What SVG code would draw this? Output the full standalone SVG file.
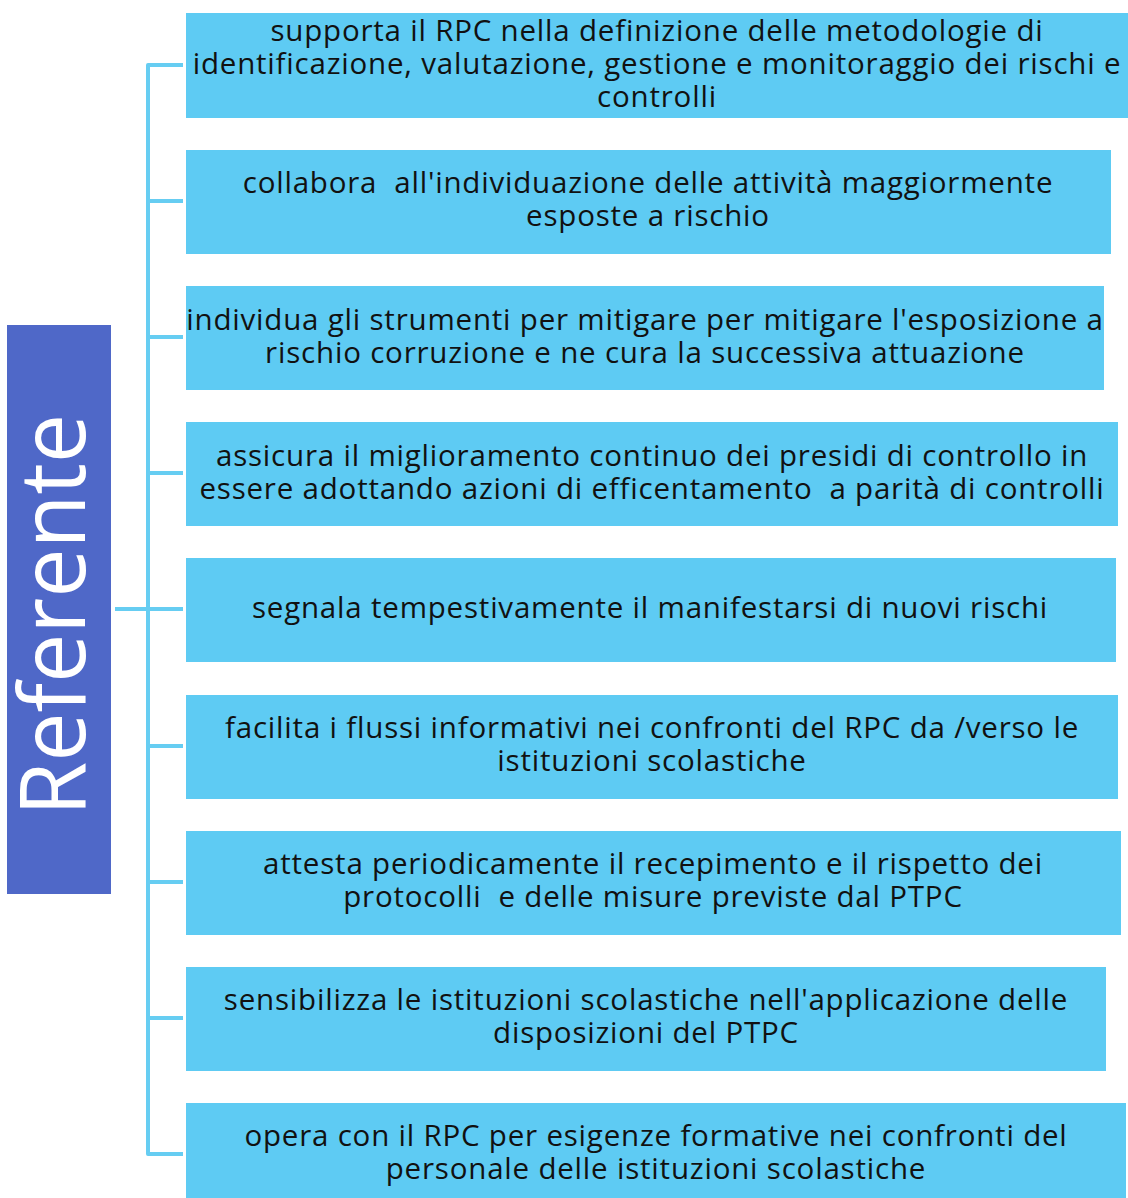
<svg xmlns="http://www.w3.org/2000/svg" width="1128" height="1198" viewBox="0 0 1128 1198">
<style>
.box{fill:#5ecbf3;}
.t{font-family:"Open Sans","Noto Sans",sans-serif;font-size:29.5px;letter-spacing:0.8px;fill:#111;text-anchor:middle;}
.c{fill:none;stroke:#66cdf2;stroke-width:4;stroke-linejoin:round;stroke-linecap:butt;}
</style>
<rect width="1128" height="1198" fill="#ffffff"/>
<g id="connectors">
<path class="c" d="M183 65 H148 V1154 H183"/>
<path class="c" d="M148 201 H183 M148 337 H183 M148 473 H183 M148 746 H183 M148 882 H183 M148 1018 H183"/>
<path class="c" d="M115 609 H183"/>
</g>
<g id="referente">
<rect x="7" y="325" width="104" height="569" fill="#4f68c8"/>
<text transform="translate(85,816) rotate(-90)" font-family="Open Sans, Noto Sans, sans-serif" font-size="91" fill="#ffffff" textLength="402" lengthAdjust="spacingAndGlyphs">Referente</text>
</g>
<g id="n1">
<rect class="box" x="186" y="13" width="942" height="105"/>
<text class="t" x="657" y="41">supporta il RPC nella definizione delle metodologie di</text>
<text class="t" x="657" y="74">identificazione, valutazione, gestione e monitoraggio dei rischi e</text>
<text class="t" x="657" y="107">controlli</text>
</g>
<g id="n2">
<rect class="box" x="186" y="150" width="925" height="104"/>
<text class="t" x="648" y="193" xml:space="preserve">collabora  all'individuazione delle attività maggiormente</text>
<text class="t" x="648" y="226">esposte a rischio</text>
</g>
<g id="n3">
<rect class="box" x="186" y="286" width="918" height="104"/>
<text class="t" x="645" y="330">individua gli strumenti per mitigare per mitigare l'esposizione a</text>
<text class="t" x="645" y="363">rischio corruzione e ne cura la successiva attuazione</text>
</g>
<g id="n4">
<rect class="box" x="186" y="422" width="932" height="104"/>
<text class="t" x="652" y="466">assicura il miglioramento continuo dei presidi di controllo in</text>
<text class="t" x="652" y="499" xml:space="preserve">essere adottando azioni di efficentamento  a parità di controlli</text>
</g>
<g id="n5">
<rect class="box" x="186" y="558" width="930" height="104"/>
<text class="t" x="650" y="618">segnala tempestivamente il manifestarsi di nuovi rischi</text>
</g>
<g id="n6">
<rect class="box" x="186" y="695" width="932" height="104"/>
<text class="t" x="652" y="738">facilita i flussi informativi nei confronti del RPC da /verso le</text>
<text class="t" x="652" y="771">istituzioni scolastiche</text>
</g>
<g id="n7">
<rect class="box" x="186" y="831" width="935" height="104"/>
<text class="t" x="653" y="874">attesta periodicamente il recepimento e il rispetto dei</text>
<text class="t" x="653" y="907" xml:space="preserve">protocolli  e delle misure previste dal PTPC</text>
</g>
<g id="n8">
<rect class="box" x="186" y="967" width="920" height="104"/>
<text class="t" x="646" y="1010">sensibilizza le istituzioni scolastiche nell'applicazione delle</text>
<text class="t" x="646" y="1043">disposizioni del PTPC</text>
</g>
<g id="n9">
<rect class="box" x="186" y="1103" width="940" height="95"/>
<text class="t" x="656" y="1146">opera con il RPC per esigenze formative nei confronti del</text>
<text class="t" x="656" y="1179">personale delle istituzioni scolastiche</text>
</g>
</svg>
